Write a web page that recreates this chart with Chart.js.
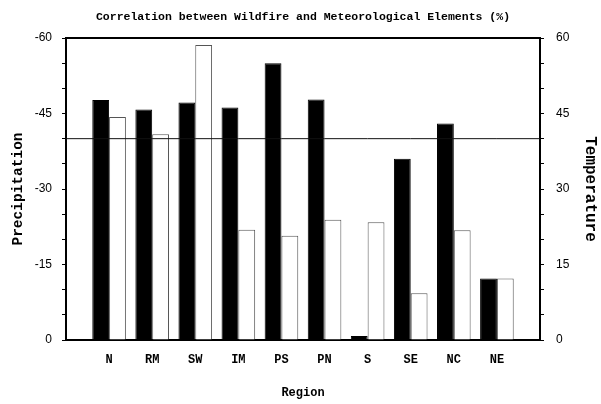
<!DOCTYPE html>
<html>
<head>
<meta charset="utf-8">
<script src="https://cdn.jsdelivr.net/npm/chart.js@4"></script>
<style>
  html, body { margin: 0; padding: 0; background: #fff; }
  #wrap { width: 601px; height: 404px; position: relative; }
</style>
</head>
<body>
<div id="wrap"><canvas id="c" width="601" height="404"></canvas></div>
<script>
// ---- data ----
const regions = ['N', 'RM', 'SW', 'IM', 'PS', 'PN', 'S', 'SE', 'NC', 'NE'];
const precipitation = [-47.7, -45.8, -47.2, -46.2, -55.0, -47.8, -0.8, -36.0, -43.0, -12.2];
const temperature = [44.3, 40.9, 58.6, 21.9, 20.7, 23.9, 23.4, 9.3, 21.8, 12.2];
const thresholdLine = [40, 40, 40, 40, 40, 40, 40, 40, 40, 40, 40, 40];
const leftTickLabels = [-60, -45, -30, -15, 0];
const rightTickLabels = [0, 15, 30, 45, 60];

// padded categories (empty slots at both ends)
const labels = ['', ...regions, ''];
const precipData = [null, ...precipitation, null];
const tempData = [null, ...temperature, null];

const monoFont = "'Liberation Mono', 'DejaVu Sans Mono', monospace";
const numFont = "'Liberation Sans', Arial, sans-serif";

new Chart(document.getElementById('c'), {
  data: {
    labels: labels,
    datasets: [
      {
        type: 'line',
        label: 'threshold',
        data: thresholdLine,
        yAxisID: 'y2',
        borderColor: '#111',
        borderWidth: 1,
        pointRadius: 0,
        fill: false,
        order: 0
      },
      {
        type: 'bar',
        label: 'Precipitation',
        data: precipData,
        yAxisID: 'y',
        backgroundColor: '#000',
        borderColor: '#000',
        borderWidth: 1,
        categoryPercentage: 0.78,
        barPercentage: 1.0,
        order: 1
      },
      {
        type: 'bar',
        label: 'Temperature',
        data: tempData,
        yAxisID: 'y2',
        backgroundColor: '#fff',
        borderColor: '#555',
        borderWidth: 1,
        categoryPercentage: 0.78,
        barPercentage: 1.0,
        order: 1
      }
    ]
  },
  options: {
    responsive: false,
    animation: false,
    devicePixelRatio: 1,
    layout: { padding: 0 },
    plugins: {
      legend: { display: false },
      tooltip: { enabled: false },
      title: { display: false }
    },
    scales: {
      x: {
        type: 'category',
        position: 'bottom',
        offset: false,
        grid: { display: false, drawTicks: false },
        border: { display: true, color: '#000', width: 2 },
        ticks: {
          color: '#000',
          padding: 13,
          autoSkip: false,
          maxRotation: 0,
          font: { family: monoFont, size: 12, weight: 'bold' }
        },
        title: {
          display: true,
          text: 'Region',
          color: '#000',
          font: { family: monoFont, size: 12, weight: 'bold', lineHeight: 1.2 },
          padding: { top: 0, bottom: 4 }
        },
        afterFit: (s) => { s.height = 64; }
      },
      xTop: {
        type: 'category',
        position: 'top',
        offset: false,
        grid: { display: false, drawTicks: false },
        border: { display: true, color: '#000', width: 2 },
        ticks: { display: false },
        title: {
          display: true,
          text: 'Correlation between Wildfire and Meteorological Elements (%)',
          color: '#000',
          font: { family: monoFont, size: 11.5, weight: 'bold', lineHeight: 1.2 },
          padding: { top: 10.5, bottom: 0 }
        },
        afterFit: (s) => { s.height = 38; }
      },
      y: {
        type: 'linear',
        position: 'left',
        min: -60,
        max: 0,
        reverse: true,
        grid: {
          drawOnChartArea: false,
          drawTicks: true,
          tickLength: 4,
          color: '#000',
          lineWidth: 1
        },
        border: { display: true, color: '#000', width: 2 },
        ticks: {
          stepSize: 5,
          color: '#000',
          padding: 10,
          font: { family: numFont, size: 12 },
          callback: (v) => leftTickLabels.includes(v) ? String(v) : ''
        },
        title: {
          display: true,
          text: 'Precipitation',
          color: '#000',
          font: { family: monoFont, size: 14.5, weight: 'bold', lineHeight: 1.2 },
          padding: { top: 10, bottom: 0 }
        },
        afterFit: (s) => { s.width = 66; }
      },
      y2: {
        type: 'linear',
        position: 'right',
        min: 0,
        max: 60,
        grid: {
          drawOnChartArea: false,
          drawTicks: true,
          tickLength: 4,
          color: '#000',
          lineWidth: 1
        },
        border: { display: true, color: '#000', width: 2 },
        ticks: {
          stepSize: 5,
          color: '#000',
          padding: 12,
          font: { family: numFont, size: 12 },
          callback: (v) => rightTickLabels.includes(v) ? String(v) : ''
        },
        title: {
          display: true,
          text: 'Temperature',
          color: '#000',
          font: { family: monoFont, size: 16, weight: 'bold', lineHeight: 1.2 },
          padding: { top: 1, bottom: 0 }
        },
        afterFit: (s) => { s.width = 61; }
      }
    }
  }
});
</script>
</body>
</html>
